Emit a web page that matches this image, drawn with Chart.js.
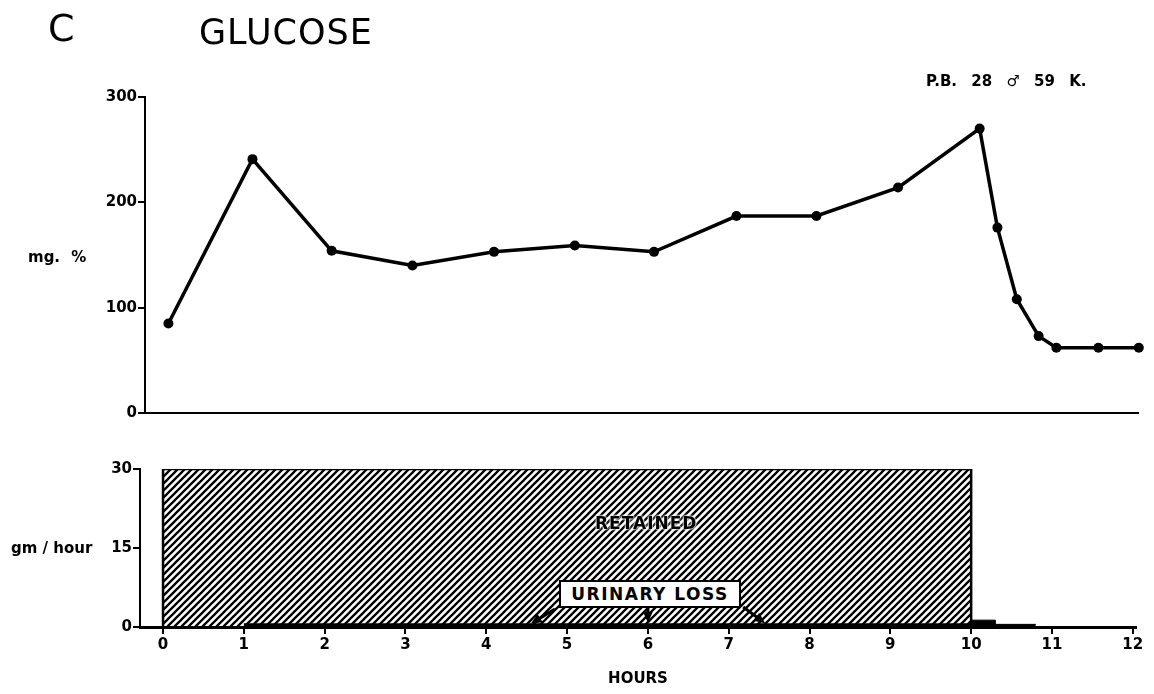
<!DOCTYPE html>
<html>
<head>
<meta charset="utf-8">
<script src="https://cdn.jsdelivr.net/npm/chart.js@4/dist/chart.umd.min.js"></script>
<style>
  html, body { margin: 0; padding: 0; background: #fff; }
  body { width: 1154px; height: 694px; position: relative; overflow: hidden; font-family: "DejaVu Sans", sans-serif; color: #000; }
  .txt { position: absolute; white-space: nowrap; line-height: 1; }
  canvas { position: absolute; left: 0; }
  #glucoseChart { top: 0; }
  #balanceChart { top: 430px; }
  #lossBox { position: absolute; left: 559px; top: 580px; width: 178px; height: 24px; border: 2px solid #000; background: #fff;
             font-size: 17px; font-weight: bold; line-height: 24px; text-align: center; letter-spacing: 1.5px; }
</style>
</head>
<body>
<canvas id="glucoseChart" width="1154" height="430"></canvas>
<canvas id="balanceChart" width="1154" height="264"></canvas>

<div class="txt" style="left:48px; top:9px; font-size:38px;">C</div>
<div class="txt" style="left:199px; top:15px; font-size:35px; letter-spacing:1px;">GLUCOSE</div>
<div class="txt" style="left:926px; top:74px; font-size:15px; font-weight:bold; word-spacing:9px;">P.B. 28 ♂ 59 K.</div>
<div class="txt" style="left:28px; top:250px; font-size:15px; font-weight:bold; word-spacing:6px;">mg. %</div>
<div class="txt" style="left:11px; top:541px; font-size:15px; font-weight:bold;">gm / hour</div>
<div class="txt" style="left:595px; top:515px; font-size:17px; font-weight:bold; letter-spacing:1px; text-shadow: 0 0 2px #fff, 0 0 2px #fff, 0 0 3px #fff;">RETAINED</div>
<div id="lossBox">URINARY LOSS</div>

<script>
// blood glucose, mg. %
const hours = [0.07, 1.11, 2.09, 3.09, 4.1, 5.1, 6.08, 7.1, 8.09, 9.1, 10.11, 10.33, 10.57, 10.84, 11.06, 11.58, 12.08];
const glucose = [85, 241, 154, 140, 153, 159, 153, 187, 187, 214, 270, 176, 108, 73, 62, 62, 62];

// glucose balance, gm / hour
const retainedHours = [0, 0, 10, 10];
const retainedValues = [0, 30, 30, 0];
const lossHours = [1, 10, 10.3, 10.8];
const lossValues = [0.6, 1.3, 0.5, 0.5];

const hourTicks = [0, 1, 2, 3, 4, 5, 6, 7, 8, 9, 10, 11, 12];
const glucoseTicks = [0, 100, 200, 300];
const balanceTicks = [0, 15, 30];

const tickFont = { family: 'DejaVu Sans', size: 15, weight: 'bold' };

function hatchPattern() {
  const s = 7;
  const c = document.createElement('canvas');
  c.width = s; c.height = s;
  const g = c.getContext('2d');
  g.strokeStyle = '#000';
  g.lineWidth = 2.3;
  g.beginPath();
  g.moveTo(0, s); g.lineTo(s, 0);
  g.moveTo(-1, 1); g.lineTo(1, -1);
  g.moveTo(s - 1, s + 1); g.lineTo(s + 1, s - 1);
  g.stroke();
  return g.createPattern(c, 'repeat');
}

const toPoints = (xs, ys) => xs.map((x, i) => ({ x: x, y: ys[i] }));

new Chart(document.getElementById('glucoseChart'), {
  type: 'line',
  data: {
    datasets: [{
      data: toPoints(hours, glucose),
      borderColor: '#000',
      backgroundColor: '#000',
      borderWidth: 3.5,
      pointRadius: 5,
      pointBackgroundColor: '#000',
      pointBorderWidth: 0,
      tension: 0,
      clip: false
    }]
  },
  options: {
    responsive: false,
    animation: false,
    events: [],
    layout: { padding: { top: 97, right: 16, bottom: 0, left: 0 } },
    plugins: { legend: { display: false }, tooltip: { enabled: false } },
    scales: {
      x: {
        type: 'linear', min: -0.22, max: 12.07,
        ticks: { display: false },
        grid: { display: true, drawOnChartArea: false, drawTicks: false },
        border: { display: true, color: '#000', width: 2 },
        afterFit: s => { s.height = 17; }
      },
      y: {
        min: 0, max: 300,
        afterBuildTicks: s => { s.ticks = glucoseTicks.map(v => ({ value: v })); },
        ticks: { color: '#000', font: tickFont, padding: 1, autoSkip: false },
        grid: { drawOnChartArea: false, drawTicks: true, tickLength: 7, color: '#000', lineWidth: 2 },
        border: { display: true, color: '#000', width: 2 },
        afterFit: s => { s.width = 145; }
      }
    }
  }
});

// arrows from the URINARY LOSS label down to the loss bar (data coords)
const lossArrows = [
  { from: [4.85, 3.4], to: [4.55, 0.6] },
  { from: [6.0, 3.8], to: [6.0, 0.8] },
  { from: [7.18, 3.8], to: [7.45, 0.7] }
];

const arrowPlugin = {
  id: 'arrows',
  afterDatasetsDraw(chart) {
    const { ctx, scales: { x, y } } = chart;
    ctx.save();
    ctx.strokeStyle = '#000';
    ctx.fillStyle = '#000';
    ctx.lineWidth = 3;
    lossArrows.forEach(a => {
      const x0 = x.getPixelForValue(a.from[0]), y0 = y.getPixelForValue(a.from[1]);
      const x1 = x.getPixelForValue(a.to[0]), y1 = y.getPixelForValue(a.to[1]);
      const ang = Math.atan2(y1 - y0, x1 - x0);
      const head = 12;
      ctx.beginPath();
      ctx.moveTo(x0, y0);
      ctx.lineTo(x1 - Math.cos(ang) * head * 0.6, y1 - Math.sin(ang) * head * 0.6);
      ctx.stroke();
      ctx.beginPath();
      ctx.moveTo(x1, y1);
      ctx.lineTo(x1 - head * Math.cos(ang - 0.42), y1 - head * Math.sin(ang - 0.42));
      ctx.lineTo(x1 - head * Math.cos(ang + 0.42), y1 - head * Math.sin(ang + 0.42));
      ctx.closePath();
      ctx.fill();
    });
    ctx.restore();
  }
};

new Chart(document.getElementById('balanceChart'), {
  type: 'line',
  data: {
    datasets: [{
      data: toPoints(lossHours, lossValues),
      stepped: true,
      fill: 'origin',
      backgroundColor: '#000',
      borderColor: '#000',
      borderWidth: 1,
      pointRadius: 0
    }, {
      data: toPoints(retainedHours, retainedValues),
      fill: 'origin',
      backgroundColor: hatchPattern(),
      borderColor: '#000',
      borderWidth: 2.5,
      borderJoinStyle: 'miter',
      pointRadius: 0,
      tension: 0
    }]
  },
  options: {
    responsive: false,
    animation: false,
    events: [],
    layout: { padding: { top: 39, right: 18, bottom: 6, left: 0 } },
    plugins: { legend: { display: false }, tooltip: { enabled: false } },
    scales: {
      x: {
        type: 'linear', min: -0.285, max: 12.04,
        afterBuildTicks: s => { s.ticks = hourTicks.map(v => ({ value: v })); },
        ticks: { color: '#000', font: tickFont, padding: 2, maxRotation: 0, autoSkip: false },
        grid: { drawOnChartArea: false, drawTicks: true, tickLength: 7, color: '#000', lineWidth: 2 },
        border: { display: true, color: '#000', width: 3 },
        title: { display: true, text: 'HOURS', color: '#000', font: { family: 'DejaVu Sans', size: 15, weight: 'bold' }, padding: 0 },
        afterFit: s => { s.height = 61; }
      },
      y: {
        min: 0, max: 30,
        afterBuildTicks: s => { s.ticks = balanceTicks.map(v => ({ value: v })); },
        ticks: { color: '#000', font: tickFont, padding: 1, autoSkip: false },
        grid: { drawOnChartArea: false, drawTicks: true, tickLength: 7, color: '#000', lineWidth: 2 },
        border: { display: true, color: '#000', width: 2 },
        afterFit: s => { s.width = 140; }
      }
    }
  },
  plugins: [arrowPlugin]
});
</script>
</body>
</html>
